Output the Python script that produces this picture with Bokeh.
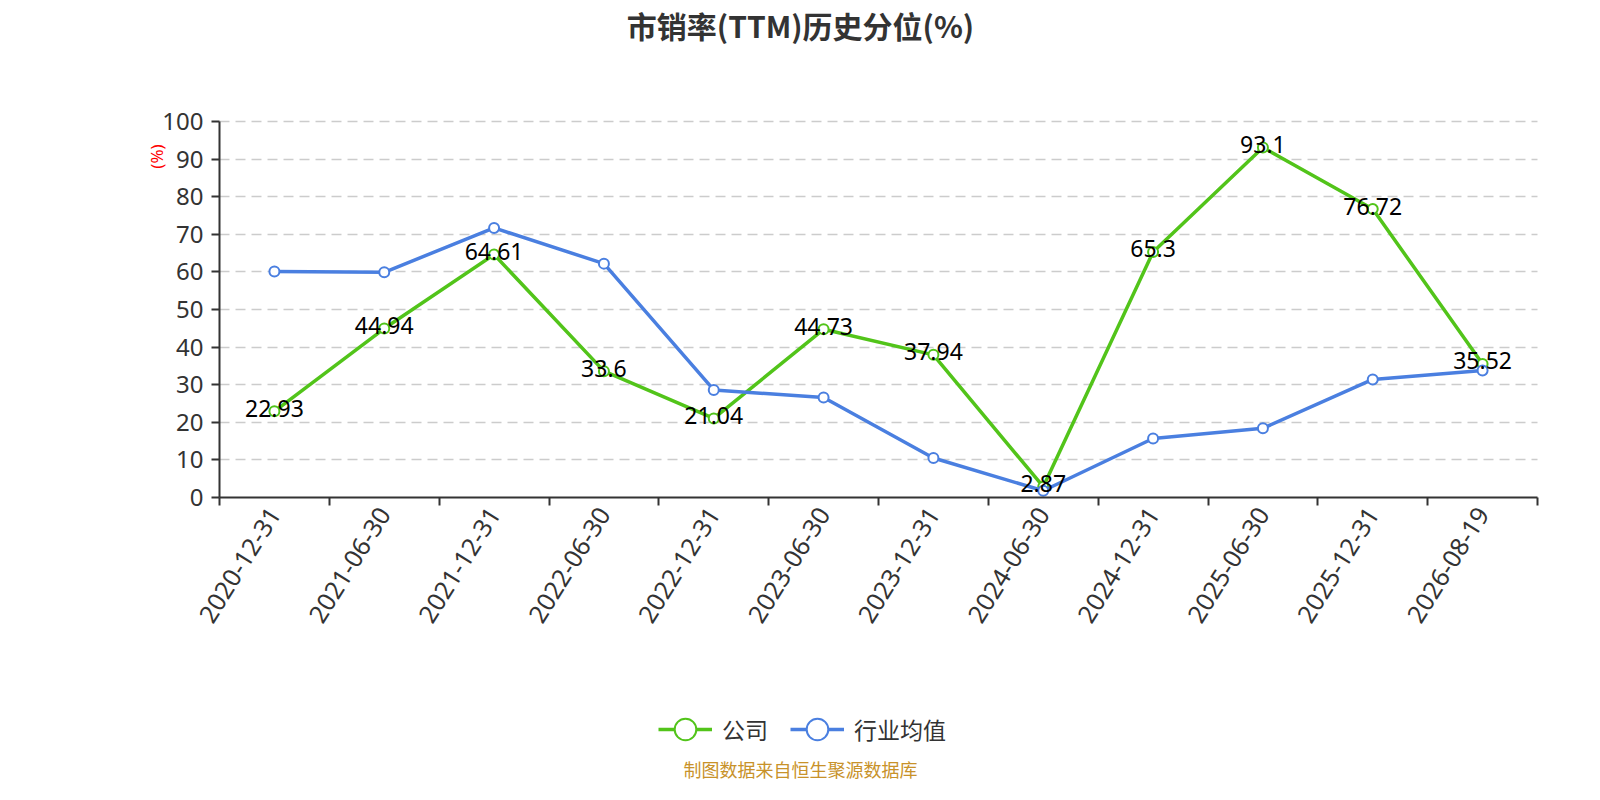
import math
from bokeh.plotting import figure
from bokeh.models import Range1d, FixedTicker, Label, Legend, LegendItem, ColumnDataSource
from bokeh.core.properties import value
from bokeh.embed import file_html
from bokeh.resources import INLINE

categories = ["2020-12-31", "2021-06-30", "2021-12-31", "2022-06-30", "2022-12-31", "2023-06-30",
              "2023-12-31", "2024-06-30", "2024-12-31", "2025-06-30", "2025-12-31", "2026-08-19"]
company = [22.93, 44.94, 64.61, 33.6, 21.04, 44.73, 37.94, 2.87, 65.3, 93.1, 76.72, 35.52]
industry = [60.1, 59.9, 71.7, 62.2, 28.6, 26.6, 10.5, 1.8, 15.7, 18.4, 31.4, 33.8]
y_ticks = [0, 10, 20, 30, 40, 50, 60, 70, 80, 90, 100]
series_names = ["公司", "行业均值"]
title_text = "市销率(TTM)历史分位(%)"
unit_text = "(%)"
source_text = "制图数据来自恒生聚源数据库"

GREEN = "#52c41a"
BLUE = "#4a7fe0"
NUM_FONT = value("Noto Sans")

# canvas / plot-area geometry (pixels)
W, H = 1584, 784
PL, PR, PT, PB = 219, 1537, 121, 497   # plot area edges
n = len(categories)
ymin, ymax = y_ticks[0], y_ticks[-1]
kx = (PR - PL) / n
ky = (PB - PT) / (ymax - ymin)
x0 = -PL / kx
y1 = ymax + PT / ky
y0 = ymin - (H - PB) / ky

xs = [i + 0.5 for i in range(n)]
src = ColumnDataSource(dict(x=xs, company=company, industry=industry,
                            clabel=[str(v) for v in company]))

p = figure(width=W, height=H, output_backend="svg", toolbar_location=None,
           x_range=Range1d(x0, x0 + W / kx), y_range=Range1d(y0, y1),
           min_border=0, title=None)
p.outline_line_color = None
p.xgrid.visible = False

# y axis
yax = p.yaxis[0]
yax.fixed_location = 0
yax.bounds = (ymin, ymax)
yax.ticker = FixedTicker(ticks=y_ticks)
yax.axis_line_color = "#333333"
yax.axis_line_width = 2
yax.major_tick_line_color = "#333333"
yax.major_tick_line_width = 2
yax.major_tick_out = 8
yax.major_tick_in = 0
yax.minor_tick_line_color = None
yax.major_label_text_font_size = "24px"
yax.major_label_text_font = "Noto Sans"
yax.major_label_text_color = "#333333"
yax.major_label_standoff = 8

p.ygrid.ticker = FixedTicker(ticks=y_ticks[1:])
p.ygrid.cross_bounds = (0, n)
p.ygrid.grid_line_color = "#cccccc"
p.ygrid.grid_line_dash = "10 6"
p.ygrid.grid_line_width = 1.5

# x axis
xax = p.xaxis[0]
xax.fixed_location = ymin
xax.bounds = (0, n)
xax.ticker = FixedTicker(ticks=xs, minor_ticks=list(range(n + 1)))
xax.major_label_overrides = {x: c for x, c in zip(xs, categories)}
xax.axis_line_color = "#333333"
xax.axis_line_width = 2
xax.major_tick_line_color = None
xax.major_tick_out = 8
xax.major_tick_in = 0
xax.minor_tick_line_color = "#333333"
xax.minor_tick_line_width = 2
xax.minor_tick_out = 8
xax.minor_tick_in = 0
xax.major_label_orientation = math.radians(58)
xax.major_label_text_font_size = "25px"
xax.major_label_text_font = "Noto Sans"
xax.major_label_text_color = "#333333"
xax.major_label_standoff = 4

# series
g_line = p.line("x", "company", source=src, line_color=GREEN, line_width=3.5)
g_pts = p.scatter("x", "company", source=src, size=10, fill_color="white",
                  line_color=GREEN, line_width=2)
b_line = p.line("x", "industry", source=src, line_color=BLUE, line_width=3.5)
b_pts = p.scatter("x", "industry", source=src, size=10, fill_color="white",
                  line_color=BLUE, line_width=2)

p.text("x", "company", text="clabel", source=src, text_align="center", text_baseline="middle",
       text_font=NUM_FONT, text_font_size="23px", text_color="black", y_offset=-3)

legend = Legend(items=[LegendItem(label=series_names[0], renderers=[g_line, g_pts]),
                       LegendItem(label=series_names[1], renderers=[b_line, b_pts])],
                orientation="horizontal", location=(658, H - 757),
                glyph_width=54, glyph_height=56, label_standoff=10, spacing=22,
                padding=0, margin=0, border_line_color=None, background_fill_alpha=0,
                label_text_font_size="23px", label_text_font="Noto Sans CJK SC",
                label_text_color="#333333", label_text_baseline="middle")
p.add_layout(legend)

p.add_layout(Label(x=800, y=H - 24, x_units="screen", y_units="screen", text=title_text,
                   text_align="center", text_baseline="middle", text_font="Noto Sans CJK SC",
                   text_font_style="bold", text_font_size="30px", text_color="#333333"))
p.add_layout(Label(x=156, y=H - 156, x_units="screen", y_units="screen", text=unit_text,
                   angle=math.pi / 2, text_align="center", text_baseline="middle",
                   text_font="Noto Sans", text_font_size="17px", text_color="red"))
p.add_layout(Label(x=800, y=H - 768, x_units="screen", y_units="screen", text=source_text,
                   text_align="center", text_baseline="middle", text_font="Noto Sans CJK SC",
                   text_font_size="18px", text_color="#c8922a"))

open("out.html", "w").write(file_html(p, INLINE))
